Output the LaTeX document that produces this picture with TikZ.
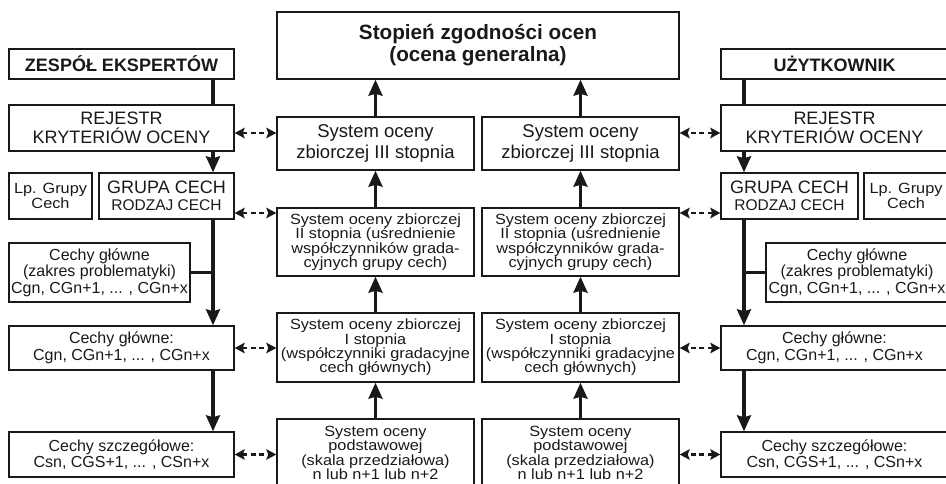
\documentclass[tikz,border=0pt]{standalone}
\usepackage{fontspec}
\setmainfont{Liberation Sans}
\newfontfamily\midfont{Liberation Sans}[FakeStretch=1.1]
\usetikzlibrary{arrows.meta,calc}
\newcommand{\fsz}[2]{\fontsize{#1}{#2}\selectfont}
\tikzset{
  box/.style={draw=black!90, line width=1.4pt, rectangle, inner sep=0pt, align=center, text=black!90},
  arr/.style={line width=3.1pt, draw=black!90, -{Stealth[length=16pt,width=14pt,inset=2pt]}},
  plainline/.style={line width=3.1pt, draw=black!90},
  darr/.style={line width=2.6pt, draw=black!90, dash pattern=on 5pt off 3.5pt,
    {Stealth[length=10pt,width=10.5pt,inset=2pt]}-{Stealth[length=10pt,width=10.5pt,inset=2pt]}},
  big/.style={font=\fsz{18}{18.5}},
  small/.style={font=\fsz{16}{16.5}},
  mid/.style={font=\midfont\fsz{14.8}{14.4}},
}
\begin{document}
\begin{tikzpicture}[x=1pt,y=-1pt]
\useasboundingbox (0,0) rectangle (946,484);
% left column
\node[box,font=\fsz{18}{20}\bfseries,minimum width=225,minimum height=30] (zesp) at (121.5,64) {ZESPÓŁ EKSPERTÓW};
\node[box,big,minimum width=225,minimum height=46] (rejL) at (121.5,128) {REJESTR\\KRYTERIÓW OCENY};
\node[box,mid,minimum width=83,minimum height=46] (lpL) at (50.5,196) {Lp. Grupy\\Cech};
\node[box,font=\fsz{18}{17},minimum width=135,minimum height=46] (grpL) at (166.5,196) {GRUPA CECH\\{\fsz{15.5}{17}RODZAJ CECH}};
\node[box,small,minimum width=181,minimum height=59] (zakL) at (99.5,272.5) {Cechy główne\\(zakres problematyki)\\Cgn, CGn+1, ... , CGn+x};
\node[box,small,minimum width=225,minimum height=44] (cgL) at (121.5,348) {Cechy główne:\\Cgn, CGn+1, ... , CGn+x};
\node[box,small,minimum width=225,minimum height=45] (csL) at (121.5,454.5) {Cechy szczegółowe:\\Csn, CGS+1, ... , CSn+x};
% right column
\node[box,font=\fsz{18}{20}\bfseries,minimum width=227,minimum height=30] (uzyt) at (834.5,64) {UŻYTKOWNIK};
\node[box,big,minimum width=227,minimum height=46] (rejR) at (834.5,128) {REJESTR\\KRYTERIÓW OCENY};
\node[box,font=\fsz{18}{17},minimum width=137,minimum height=46] (grpR) at (789.5,196) {GRUPA CECH\\{\fsz{15.5}{17}RODZAJ CECH}};
\node[box,mid,minimum width=84,minimum height=46] (lpR) at (906,196) {Lp. Grupy\\Cech};
\node[box,small,minimum width=182,minimum height=59] (zakR) at (857,272.5) {Cechy główne\\(zakres problematyki)\\Cgn, CGn+1, ... , CGn+x};
\node[box,small,minimum width=227,minimum height=44] (cgR) at (834.5,348) {Cechy główne:\\Cgn, CGn+1, ... , CGn+x};
\node[box,small,minimum width=227,minimum height=45] (csR) at (834.5,454.5) {Cechy szczegółowe:\\Csn, CGS+1, ... , CSn+x};
% middle
\node[box,font=\fsz{20.7}{22}\bfseries,minimum width=402,minimum height=67] (top) at (478,45.5) {Stopień zgodności ocen\\(ocena generalna)};
\node[box,font=\fsz{18.5}{21.5},minimum width=197,minimum height=53] (IIIL) at (375.5,143.5) {System oceny\\zbiorczej III stopnia};
\node[box,font=\fsz{18.5}{21.5},minimum width=197,minimum height=53] (IIIR) at (580.5,143.5) {System oceny\\zbiorczej III stopnia};
\node[box,mid,minimum width=197,minimum height=68] (IIL) at (375.5,242) {System oceny zbiorczej\\II stopnia (uśrednienie\\współczynników grada-\\cyjnych grupy cech)};
\node[box,mid,minimum width=197,minimum height=68] (IIR) at (580.5,242) {System oceny zbiorczej\\II stopnia (uśrednienie\\współczynników grada-\\cyjnych grupy cech)};
\node[box,mid,minimum width=197,minimum height=69] (IL) at (375.5,347.5) {System oceny zbiorczej\\I stopnia\\(współczynniki gradacyjne\\cech głównych)};
\node[box,mid,minimum width=197,minimum height=69] (IR) at (580.5,347.5) {System oceny zbiorczej\\I stopnia\\(współczynniki gradacyjne\\cech głównych)};
\node[box,mid,minimum width=197,minimum height=68] (bL) at (375.5,453) {System oceny\\podstawowej\\(skala przedziałowa)\\n lub n+1 lub n+2};
\node[box,mid,minimum width=197,minimum height=68] (bR) at (580.5,453) {System oceny\\podstawowej\\(skala przedziałowa)\\n lub n+1 lub n+2};
% spines
\coordinate (sL) at (213,0);
\coordinate (sR) at (744,0);
\draw[plainline] (zesp.south -| sL) -- (rejL.north -| sL);
\draw[arr] (rejL.south -| sL) -- (grpL.north -| sL);
\draw[arr] (grpL.south -| sL) -- (cgL.north -| sL);
\draw[plainline] (zakL.east) -- (zakL.east -| sL);
\draw[arr] (cgL.south -| sL) -- (csL.north -| sL);
\draw[plainline] (uzyt.south -| sR) -- (rejR.north -| sR);
\draw[arr] (rejR.south -| sR) -- (grpR.north -| sR);
\draw[arr] (grpR.south -| sR) -- (cgR.north -| sR);
\draw[plainline] (zakR.west) -- (zakR.west -| sR);
\draw[arr] (cgR.south -| sR) -- (csR.north -| sR);
% middle upward arrows
\foreach \a/\b in {IIIL/top,IIIR/top,IIL/IIIL,IIR/IIIR,IL/IIL,IR/IIR,bL/IL,bR/IR}{
  \draw[arr] (\a.north) -- (\a.north |- \b.south);
}
% dashed links
\draw[darr] ([yshift=-5pt]rejL.east) -- ([yshift=-5pt]rejL.east -| IIIL.west);
\draw[darr] ([yshift=-17pt]grpL.east) -- ([yshift=-17pt]grpL.east -| IIL.west);
\draw[darr] (cgL.east) -- (cgL.east -| IL.west);
\draw[darr] (csL.east) -- (csL.east -| bL.west);
\draw[darr] ([yshift=-5pt]rejR.west) -- ([yshift=-5pt]rejR.west -| IIIR.east);
\draw[darr] ([yshift=-17pt]grpR.west) -- ([yshift=-17pt]grpR.west -| IIR.east);
\draw[darr] (cgR.west) -- (cgR.west -| IR.east);
\draw[darr] (csR.west) -- (csR.west -| bR.east);
\end{tikzpicture}
\end{document}
